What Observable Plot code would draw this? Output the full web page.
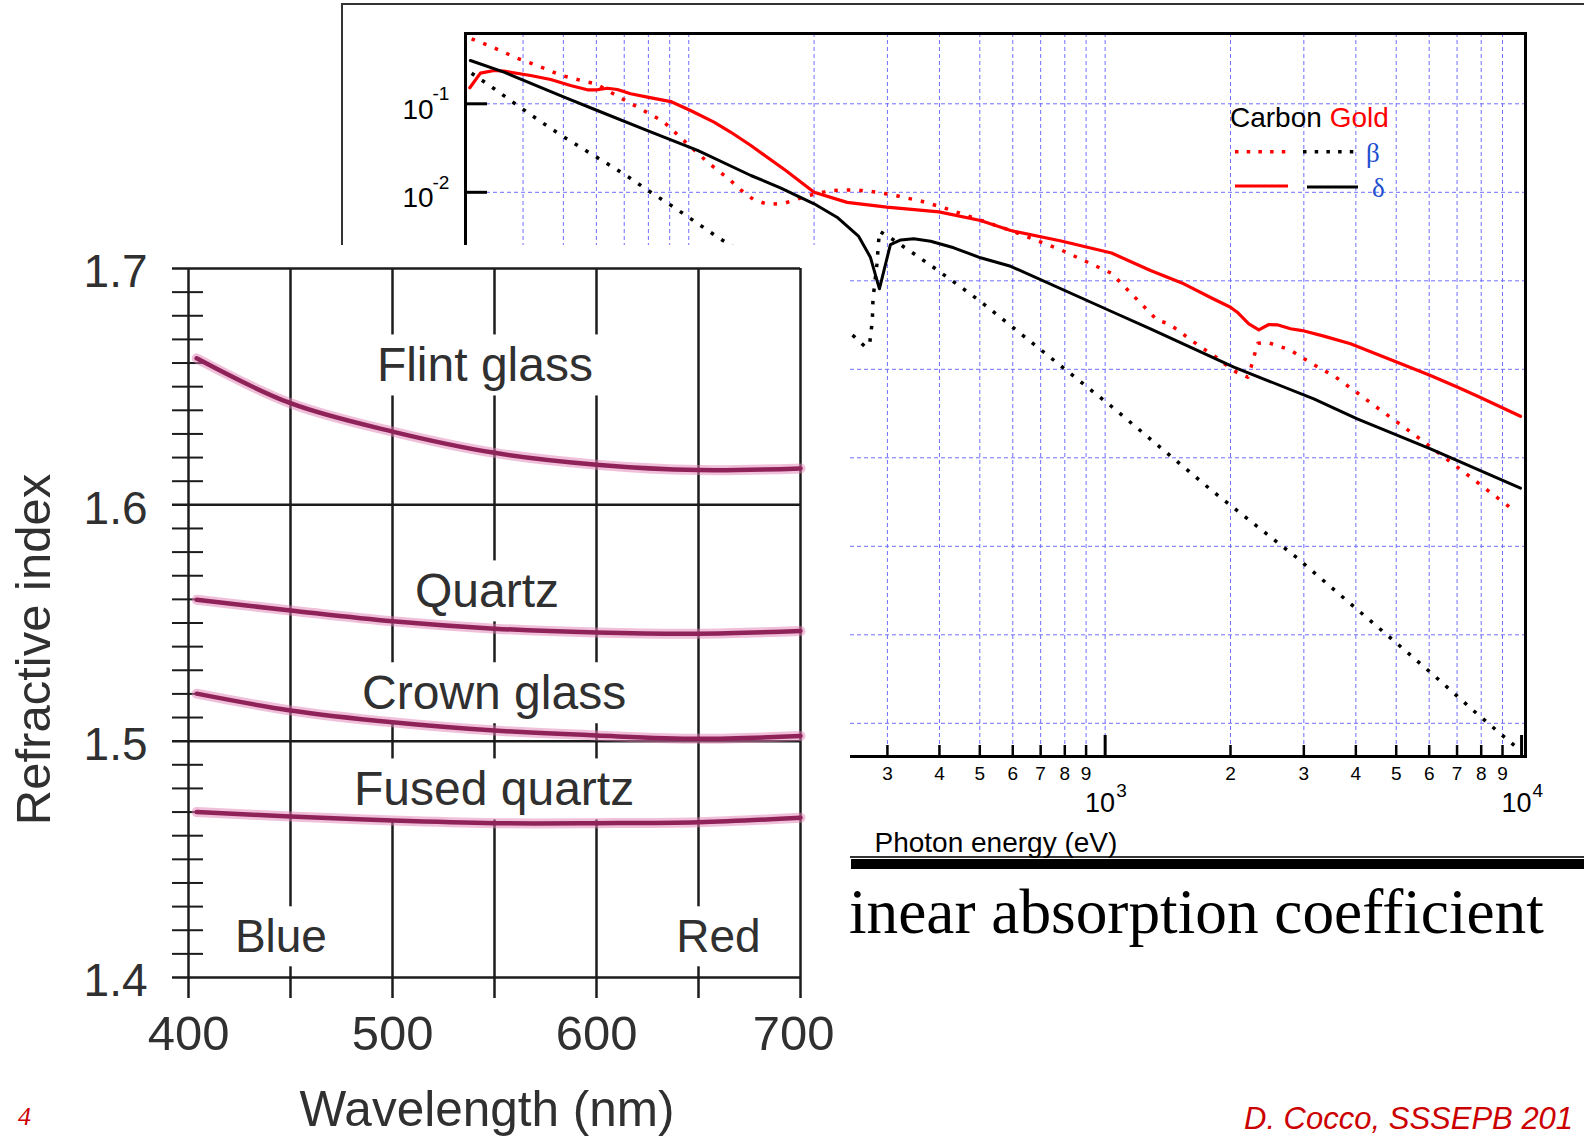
<!DOCTYPE html>
<html><head><meta charset="utf-8">
<script src="https://cdn.jsdelivr.net/npm/d3@7"></script>
<script src="https://cdn.jsdelivr.net/npm/@observablehq/plot@0.6"></script>
<style>
html,body{margin:0;padding:0;background:#fff;}
body{width:1584px;height:1138px;overflow:hidden;position:relative;}
.abs{position:absolute;}
#outerBox{position:absolute;left:341px;top:3px;width:1400px;height:851px;border:2px solid #333;border-right:none;}
#rule{position:absolute;left:851px;top:859px;width:740px;height:10px;background:#000;}
</style></head><body>
<div id="outerBox"></div>
<div id="rule"></div>
<div id="rightChart" class="abs" style="left:342px;top:4px;"></div>
<svg id="legend" class="abs" style="left:1220px;top:95px;" width="200" height="120">
  <text x="10" y="32" font-family="Liberation Sans, Arial, sans-serif" font-size="28" fill="#000">Carbon <tspan fill="#ff0000">Gold</tspan></text>
  <line x1="15" x2="66" y1="56.7" y2="56.7" stroke="#ff0000" stroke-width="3.5" stroke-dasharray="3.5,8.2"/>
  <line x1="83" x2="134" y1="56.7" y2="56.7" stroke="#000" stroke-width="3.5" stroke-dasharray="3.5,8.2"/>
  <text x="146" y="67" font-family="Liberation Serif, Times New Roman, serif" font-size="27" fill="#1f4fd0">β</text>
  <line x1="15" x2="68" y1="91" y2="91" stroke="#ff0000" stroke-width="3"/>
  <line x1="87" x2="138" y1="92" y2="92" stroke="#000" stroke-width="3"/>
  <text x="152" y="102" font-family="Liberation Serif, Times New Roman, serif" font-size="27" fill="#1f4fd0">δ</text>
</svg>
<div id="leftChart" class="abs" style="left:0px;top:245px;"></div>
<svg id="overlay" class="abs" style="left:0;top:0;pointer-events:none" width="1584" height="1138">
  <text x="849" y="933" font-family="Liberation Serif, Times New Roman, serif" font-size="63.3" fill="#000">inear absorption coefficient</text>
  <text x="18" y="1125" font-family="Liberation Serif, Times New Roman, serif" font-style="italic" font-size="26" fill="#cc0000">4</text>
  <text x="1244" y="1129" font-family="Liberation Sans, Arial, sans-serif" font-style="italic" font-size="31" fill="#cc0000">D. Cocco, SSSEPB 201</text>
</svg>
<script>
// ================= Right chart: optical constants (log-log) =================
const goldDeltaEnergy = [29.8, 31.6, 34.1, 36, 41.7, 46.6, 52, 57.1, 60.3, 63.8, 67.4, 72.5, 79.6, 90.5, 101, 115, 126, 141, 171, 200, 240, 299, 399, 502, 593, 784, 1036, 1285, 1545, 1811, 2000, 2076, 2213, 2339, 2472, 2590, 2787, 2974, 3351, 3884, 5027, 6043, 7005, 7965, 9940];
const goldDeltaValue = [0.152, 0.222, 0.238, 0.234, 0.209, 0.188, 0.161, 0.144, 0.144, 0.150, 0.145, 0.130, 0.119, 0.106, 0.084, 0.062, 0.048, 0.0338, 0.0176, 0.0100, 0.0077, 0.0068, 0.0060, 0.0048, 0.0037, 0.00282, 0.00206, 0.00131, 0.000925, 0.000631, 0.000503, 0.000442, 0.000327, 0.000279, 0.000321, 0.000318, 0.000287, 0.000274, 0.000237, 0.000194, 0.00012, 8.5e-5, 6.3e-5, 4.8e-5, 2.95e-5];

const goldBetaEnergy = [30.1, 34.1, 38.5, 43.7, 49.5, 56.0, 59.8, 67.4, 76.6, 86.7, 98.3, 111, 126, 133, 143, 155, 171, 194, 219, 249, 284, 320, 362, 410, 465, 593, 784, 1036, 1334, 1422, 1517, 1612, 1716, 1824, 1946, 2068, 2200, 2243, 2284, 2326, 2450, 2777, 3142, 3561, 4030, 4566, 5168, 5855, 6627, 7508, 8499, 9670];
const goldBetaValue = [0.543, 0.429, 0.331, 0.266, 0.209, 0.180, 0.168, 0.122, 0.0878, 0.0636, 0.0368, 0.0219, 0.0136, 0.01075, 0.0083, 0.00728, 0.0076, 0.0092, 0.01048, 0.01067, 0.01003, 0.00903, 0.00793, 0.00668, 0.00547, 0.0037, 0.00223, 0.001215, 0.000358, 0.000327, 0.000263, 0.000212, 0.000173, 0.000143, 0.000113, 9.27e-5, 8.14e-5, 1.075e-4, 1.458e-4, 1.97e-4, 2.02e-4, 1.66e-4, 1.154e-4, 8.29e-5, 5.43e-5, 3.51e-5, 2.30e-5, 1.49e-5, 9.57e-6, 6.15e-6, 3.92e-6, 2.47e-6];

const carbonDeltaEnergy = [29.9, 36.0, 50.2, 60.3, 79.6, 105, 141, 166, 200, 227, 256, 273, 287, 305, 323, 347, 381, 433, 502, 593, 1036, 1285, 2037, 3170, 4030, 6043, 9940];
const carbonDeltaValue = [0.3085, 0.2276, 0.1187, 0.084, 0.0499, 0.0297, 0.01548, 0.01124, 0.00741, 0.00523, 0.00317, 0.00185, 0.000812, 0.00257, 0.0029, 0.00298, 0.0028, 0.00236, 0.00182, 0.00146, 0.00045, 0.000287, 1.056e-4, 4.64e-5, 2.76e-5, 1.264e-5, 4.54e-6];

const carbonBetaEnergy = [30.1, 34.1, 38.5, 43.7, 49.5, 56.0, 63.5, 71.8, 81.4, 92.1, 104.5, 118, 129, 249, 266, 272, 276, 277, 283, 287, 305, 346, 391.5, 445, 502, 1036, 1811, 2876, 3688, 4739, 6077, 7791, 9670];
const carbonBetaValue = [0.2217, 0.1477, 0.0982, 0.0648, 0.0438, 0.0305, 0.0213, 0.0148, 0.00987, 0.00679, 0.00452, 0.00306, 0.00235, 2.37e-4, 1.777e-4, 1.97e-4, 3.56e-4, 6.26e-4, 0.00153, 0.00363, 0.00306, 0.00205, 0.001366, 8.85e-4, 5.84e-4, 3.8e-5, 4.2e-6, 7.53e-7, 2.76e-7, 1.008e-7, 3.68e-8, 1.30e-8, 5.47e-9];

const energyGrid = [40, 50, 60, 70, 80, 90, 100, 200, 300, 400, 500, 600, 700, 800, 900, 1000, 2000, 3000, 4000, 5000, 6000, 7000, 8000, 9000];
const energyMinorTicks = [40, 50, 60, 70, 80, 90, 200, 300, 400, 500, 600, 700, 800, 900, 2000, 3000, 4000, 5000, 6000, 7000, 8000, 9000];
const energyMajorTicks = [100, 1000, 10000];
const valueDecades = [1e-1, 1e-2, 1e-3, 1e-4, 1e-5, 1e-6, 1e-7, 1e-8];
const energyTickLabelValues = [300, 400, 500, 600, 700, 800, 900, 2000, 3000, 4000, 5000, 6000, 7000, 8000, 9000];
const energyTickLabelText = ["3", "4", "5", "6", "7", "8", "9", "2", "3", "4", "5", "6", "7", "8", "9"];
const energyDecadeLabelValues = [1000, 10000];
const energyDecadeExponents = ["3", "4"];
const valueDecadeLabelValues = [0.1, 0.01];
const valueDecadeExponents = ["-1", "-2"];

// ================= Left chart: refractive index vs wavelength =================
const wavelengths = [404, 450, 500, 550, 600, 650, 700];
const flintGlass = [1.662, 1.643, 1.631, 1.622, 1.617, 1.6147, 1.6154];
const quartz = [1.5598, 1.5553, 1.5507, 1.5476, 1.546, 1.5455, 1.5466];
const crownGlass = [1.5201, 1.513, 1.508, 1.5045, 1.5024, 1.501, 1.5022];
const fusedQuartz = [1.470, 1.4681, 1.4664, 1.4653, 1.4653, 1.4657, 1.4676];
const materialNames = ["Flint glass", "Quartz", "Crown glass", "Fused quartz"];
const materialLabelWavelength = [545.3, 546.3, 549.8, 549.8];
const materialLabelIndex = [1.6587, 1.5631, 1.5200, 1.4793];
const colourNames = ["Blue", "Red"];
const colourLabelWavelength = [445.3, 659.8];
const colourLabelIndex = [1.4169, 1.4169];
const wavelengthGrid = [400, 450, 500, 550, 600, 650, 700];
const wavelengthTickLabels = [400, 500, 600, 700];
const indexMajor = [1.4, 1.5, 1.6, 1.7];
const indexMinor = d3.range(141, 170).filter(d => d % 10 !== 0).map(d => d / 100);

// ---------- build tables ----------
const rows = (E, V) => E.map((e, i) => ({energy: e, value: V[i]}));
const curveRows = [];
[["Flint glass", flintGlass], ["Quartz", quartz], ["Crown glass", crownGlass], ["Fused quartz", fusedQuartz]]
  .forEach(([name, vals]) => wavelengths.forEach((w, i) => curveRows.push({material: name, wavelength: w, index: vals[i]})));
const materialLabels = materialNames.map((n, i) => ({name: n, wavelength: materialLabelWavelength[i], index: materialLabelIndex[i]}));
const colourLabels = colourNames.map((n, i) => ({name: n, wavelength: colourLabelWavelength[i], index: colourLabelIndex[i]}));

const SANS = "'Liberation Sans', Arial, Helvetica, sans-serif";
const GRID = "#6e6eff";

// ---------- right plot ----------
const rightPlot = Plot.plot({
  width: 1242, height: 856,
  marginLeft: 123, marginRight: 59, marginTop: 29, marginBottom: 104,
  x: {type: "log", domain: [29.1, 10220], axis: null},
  y: {type: "log", domain: [4.217e-9, 0.6228], axis: null},
  style: {fontFamily: SANS, background: "transparent", color: "#000", overflow: "visible"},
  marks: [
    Plot.ruleX(energyGrid, {stroke: GRID, strokeWidth: 1, strokeDasharray: "4,3"}),
    Plot.ruleY(valueDecades, {stroke: GRID, strokeWidth: 1, strokeDasharray: "4,3"}),
    Plot.line(rows(goldBetaEnergy, goldBetaValue), {x: "energy", y: "value", stroke: "#ff0000", strokeWidth: 3.5, strokeDasharray: "3.5,9", strokeLinecap: "butt"}),
    Plot.line(rows(carbonBetaEnergy, carbonBetaValue), {x: "energy", y: "value", stroke: "#000", strokeWidth: 3.5, strokeDasharray: "3.5,9", strokeLinecap: "butt"}),
    Plot.line(rows(goldDeltaEnergy, goldDeltaValue), {x: "energy", y: "value", stroke: "#ff0000", strokeWidth: 3.2}),
    Plot.line(rows(carbonDeltaEnergy, carbonDeltaValue), {x: "energy", y: "value", stroke: "#000", strokeWidth: 3}),
    Plot.ruleX(energyMinorTicks, {stroke: "#000", strokeWidth: 2.5, insetTop: 712}),
    Plot.ruleX(energyMajorTicks, {stroke: "#000", strokeWidth: 3, insetTop: 702}),
    Plot.ruleY(valueDecades, {stroke: "#000", strokeWidth: 3, insetRight: 1038}),
    Plot.frame({stroke: "#000", strokeWidth: 3}),
    Plot.text(valueDecadeLabelValues, {y: d => d, text: () => "10", frameAnchor: "left", textAnchor: "start", dx: -63, dy: 6, fontSize: 28, fill: "#000"}),
    Plot.text(valueDecadeLabelValues, {y: d => d, text: (d, i) => valueDecadeExponents[i], frameAnchor: "left", textAnchor: "start", dx: -33, dy: -9.5, fontSize: 19, fill: "#000"}),
    Plot.text(energyTickLabelValues, {x: d => d, text: (d, i) => energyTickLabelText[i], frameAnchor: "bottom", textAnchor: "middle", dy: 23, fontSize: 19, fill: "#000"}),
    Plot.text(energyDecadeLabelValues, {x: d => d, text: () => "10", frameAnchor: "bottom", textAnchor: "end", dx: 10, dy: 55, fontSize: 27, fill: "#000"}),
    Plot.text(energyDecadeLabelValues, {x: d => d, text: (d, i) => energyDecadeExponents[i], frameAnchor: "bottom", textAnchor: "start", dx: 11, dy: 40, fontSize: 19, fill: "#000"}),
    Plot.text(["Photon energy (eV)"], {frameAnchor: "bottom-left", textAnchor: "start", dx: 409, dy: 95, fontSize: 28, fill: "#000"})
  ]
});
document.getElementById("rightChart").appendChild(rightPlot);

// ---------- left plot ----------
const INK = "#1c1c1c";
const TXT = "#303030";
const leftPlot = Plot.plot({
  width: 850, height: 893,
  marginLeft: 188, marginRight: 50, marginTop: 23, marginBottom: 161,
  x: {domain: [400, 700], axis: null},
  y: {domain: [1.4, 1.7], axis: null},
  style: {fontFamily: SANS, background: "#ffffff", color: TXT},
  marks: [
    Plot.ruleX(wavelengthGrid, {stroke: INK, strokeWidth: 2.5, insetBottom: -21}),
    Plot.ruleY(indexMajor, {stroke: INK, strokeWidth: 2.5, insetLeft: -16}),
    Plot.ruleY(indexMinor, {stroke: INK, strokeWidth: 2, insetLeft: -16, insetRight: 597}),
    Plot.text(materialLabels, {x: "wavelength", y: "index", text: "name", textAnchor: "middle", fontSize: 48, fill: "#fefefe", ariaDescription: "label-bg"}),
    Plot.text(colourLabels, {x: "wavelength", y: "index", text: "name", textAnchor: "middle", fontSize: 46, fill: "#fefefe", ariaDescription: "label-bg"}),
    Plot.line(curveRows, {x: "wavelength", y: "index", z: "material", stroke: "#e27fb4", strokeWidth: 10, strokeOpacity: 0.5, curve: "catmull-rom"}),
    Plot.line(curveRows, {x: "wavelength", y: "index", z: "material", stroke: "#8f2359", strokeWidth: 4.5, curve: "catmull-rom"}),
    Plot.text(materialLabels, {x: "wavelength", y: "index", text: "name", textAnchor: "middle", fontSize: 48, fill: TXT}),
    Plot.text(colourLabels, {x: "wavelength", y: "index", text: "name", textAnchor: "middle", fontSize: 46, fill: TXT}),
    Plot.text(indexMajor, {y: d => d, text: d => d.toFixed(1), frameAnchor: "left", textAnchor: "end", dx: -41, dy: 4, fontSize: 46, fill: TXT}),
    Plot.text(wavelengthTickLabels.filter(d => d < 700), {x: d => d, text: d => String(d), frameAnchor: "bottom", textAnchor: "middle", dy: 72, fontSize: 49, fill: TXT}),
    Plot.text(wavelengthTickLabels.filter(d => d >= 700), {x: d => d, text: d => String(d), frameAnchor: "bottom", textAnchor: "middle", dx: -7, dy: 72, fontSize: 49, fill: TXT}),
    Plot.text(["Wavelength (nm)"], {frameAnchor: "bottom", textAnchor: "middle", dx: -7.5, dy: 148, fontSize: 49.5, fill: TXT}),
    Plot.text(["Refractive index"], {frameAnchor: "left", textAnchor: "middle", rotate: -90, dx: -154, dy: 26.5, fontSize: 49, fill: TXT})
  ]
});
document.getElementById("leftChart").appendChild(leftPlot);

// Replace the background-label texts by white boxes (so grid lines break around labels)
(function () {
  const NS = "http://www.w3.org/2000/svg";
  let groups = Array.from(leftPlot.querySelectorAll('g[aria-description="label-bg"]'));
  if (!groups.length) {
    groups = Array.from(leftPlot.querySelectorAll("g")).filter(g => (g.getAttribute("fill") || "").toLowerCase() === "#fefefe");
  }
  groups.forEach(g => {
    Array.from(g.querySelectorAll("text")).forEach(t => {
      const b = t.getBBox();
      const r = document.createElementNS(NS, "rect");
      r.setAttribute("x", b.x - 7);
      r.setAttribute("y", b.y - 4);
      r.setAttribute("width", b.width + 14);
      r.setAttribute("height", b.height + 8);
      r.setAttribute("fill", "#ffffff");
      const tr = t.getAttribute("transform");
      if (tr) r.setAttribute("transform", tr);
      g.insertBefore(r, t);
      t.remove();
    });
  });
})();
</script>
</body></html>
